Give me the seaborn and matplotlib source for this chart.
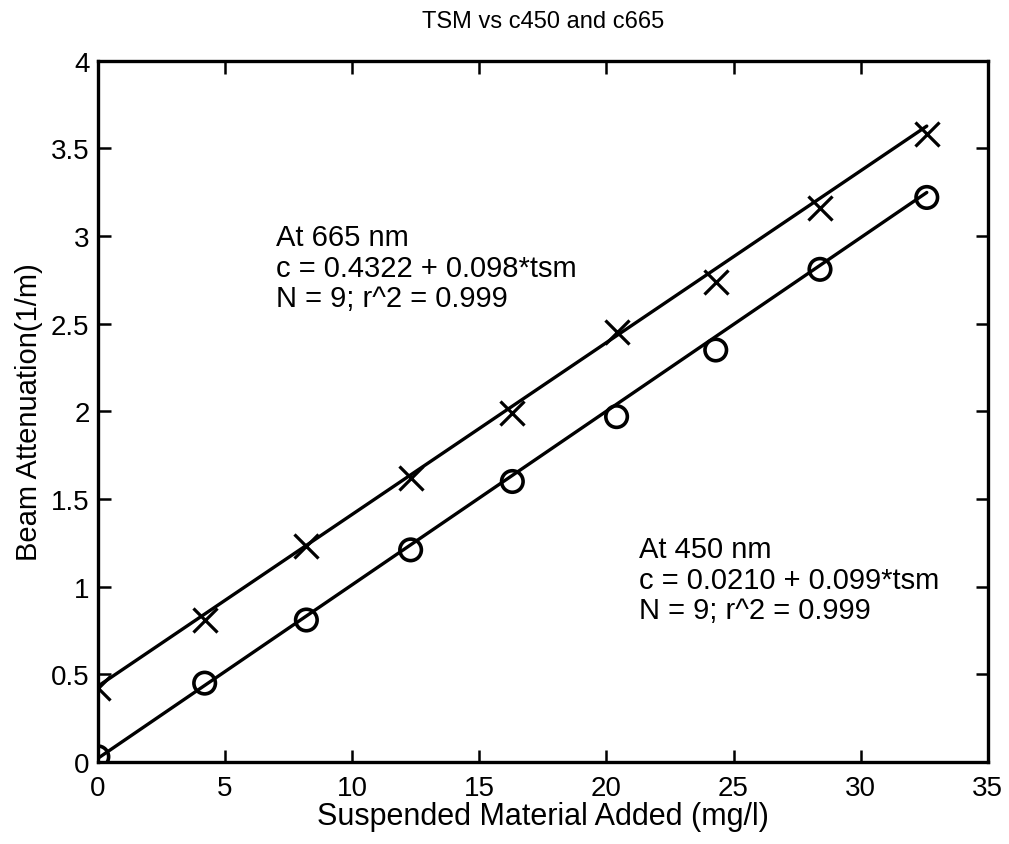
import numpy as np
import pandas as pd
import matplotlib
matplotlib.use('Agg')
import matplotlib.pyplot as plt
import seaborn as sns

tsm = [0.0, 4.2, 8.2, 12.3, 16.3, 20.4, 24.3, 28.4, 32.6]
c665 = [0.42, 0.81, 1.23, 1.62, 1.99, 2.45, 2.74, 3.16, 3.58]
c450 = [0.03, 0.45, 0.81, 1.21, 1.60, 1.97, 2.35, 2.81, 3.22]

# fit coefficients as printed on the chart
fit665 = (0.4322, 0.098)
fit450 = (0.0210, 0.099)

sns.set_style('ticks')
plt.rcParams['font.family'] = ['Liberation Sans', 'DejaVu Sans']
plt.rcParams.update({'text.color': 'black', 'axes.labelcolor': 'black',
                     'xtick.color': 'black', 'ytick.color': 'black',
                     'axes.edgecolor': 'black'})

df = pd.DataFrame({'tsm': tsm, 'c665': c665, 'c450': c450})
x = np.array(tsm)
df['fit665'] = fit665[0] + fit665[1] * x
df['fit450'] = fit450[0] + fit450[1] * x

fig = plt.figure(figsize=(10.09, 8.45), dpi=100)
ax = fig.add_axes([0.097, 0.097, 0.882, 0.830])

sns.lineplot(df, x='tsm', y='fit665', ax=ax, color='black', lw=2.4)
sns.lineplot(df, x='tsm', y='fit450', ax=ax, color='black', lw=2.4)
sns.scatterplot(df, x='tsm', y='c665', ax=ax, marker='x', s=300,
                color='black', linewidth=2.3, zorder=3)
sns.scatterplot(df, x='tsm', y='c450', ax=ax, marker='o', s=240,
                facecolor='none', edgecolor='black', linewidth=2.6, zorder=3)

ax.set_xlim(0, 35)
ax.set_ylim(0, 4)
ax.set_xticks(np.arange(0, 36, 5))
ax.set_yticks(np.arange(0, 4.01, 0.5))
ax.set_yticklabels(['0', '0.5', '1', '1.5', '2', '2.5', '3', '3.5', '4'])
ax.tick_params(direction='in', top=True, right=True, length=9, width=1.8,
               labelsize=20)
ax.tick_params(axis='x', pad=9)
ax.tick_params(axis='y', pad=6)
for s in ax.spines.values():
    s.set_linewidth(2.4)

ax.set_xlabel('Suspended Material Added (mg/l)', fontsize=22, labelpad=0)
ax.set_ylabel('Beam Attenuation(1/m)', fontsize=21, labelpad=6)
ax.set_title('TSM vs c450 and c665', fontsize=17, pad=24)

ax.text(7.0, 2.82, 'At 665 nm\nc = 0.4322 + 0.098*tsm\nN = 9; r^2 = 0.999',
        fontsize=21, va='center', ha='left', linespacing=1.1)
ax.text(21.3, 1.04, 'At 450 nm\nc = 0.0210 + 0.099*tsm\nN = 9; r^2 = 0.999',
        fontsize=21, va='center', ha='left', linespacing=1.1)

fig.savefig('out.png', dpi=100)
plt.close()
